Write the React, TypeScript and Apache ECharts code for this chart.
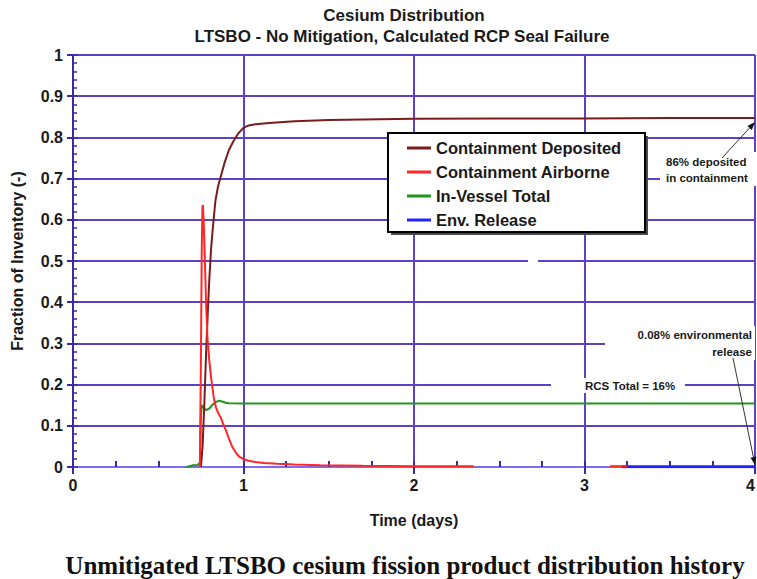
import React, { useEffect, useRef } from "react";
import * as echarts from "echarts";

const TITLE_LINES = ["Cesium Distribution", "LTSBO - No Mitigation, Calculated RCP Seal Failure"];
const CAPTION = "Unmitigated LTSBO cesium fission product distribution history";
const X_NAME = "Time (days)";
const Y_NAME = "Fraction of Inventory (-)";
const SERIES_NAMES = ["Containment Deposited", "Containment Airborne", "In-Vessel Total", "Env. Release"];
const SERIES_COLORS = ["#7a1c1c", "#ff2626", "#1f961f", "#2222ff"];

const X_MIN = 0;
const X_MAX = 4;
const X_INTERVAL = 1;
const Y_MIN = 0;
const Y_MAX = 1;
const Y_INTERVAL = 0.1;

// Containment Deposited
const T_DEP = [0.75, 0.76, 0.77, 0.78, 0.79, 0.8, 0.81, 0.82, 0.835, 0.85, 0.87, 0.89, 0.915, 0.94, 0.97, 1.0, 1.03, 1.07, 1.15, 1.3, 1.5, 2.0, 2.5, 3.0, 3.5, 4.0];
const V_DEP = [0, 0.05, 0.15, 0.27, 0.37, 0.46, 0.53, 0.58, 0.645, 0.68, 0.71, 0.74, 0.77, 0.79, 0.81, 0.823, 0.829, 0.832, 0.835, 0.839, 0.842, 0.845, 0.846, 0.846, 0.847, 0.847];

// Containment Airborne
const T_AIR = [0.744, 0.75, 0.755, 0.759, 0.762, 0.766, 0.77, 0.775, 0.781, 0.789, 0.799, 0.809, 0.825, 0.838, 0.855, 0.867, 0.88, 0.896, 0.915, 0.933, 0.955, 0.974, 1.0, 1.03, 1.07, 1.12, 1.2, 1.3, 1.45, 1.7, 2.0, 2.35, 2.75, 3.15, 3.25];
const V_AIR = [0, 0.25, 0.52, 0.63, 0.636, 0.6, 0.55, 0.48, 0.39, 0.31, 0.26, 0.22, 0.17, 0.145, 0.128, 0.12, 0.105, 0.09, 0.068, 0.05, 0.035, 0.025, 0.019, 0.015, 0.012, 0.01, 0.008, 0.006, 0.004, 0.003, 0.002, 0.002, null, 0.002, 0.002];

// In-Vessel Total
const T_VES = [0.665, 0.7, 0.73, 0.745, 0.75, 0.755, 0.765, 0.78, 0.8, 0.82, 0.84, 0.857, 0.875, 0.895, 0.915, 1.0, 1.5, 2.0, 2.5, 3.0, 3.5, 4.0];
const V_VES = [0, 0.004, 0.005, 0.01, 0.12, 0.15, 0.145, 0.138, 0.142, 0.152, 0.158, 0.161, 0.159, 0.156, 0.155, 0.154, 0.154, 0.154, 0.154, 0.154, 0.154, 0.154];

// Env. Release
const T_ENV = [3.22, 3.5, 4.0];
const V_ENV = [0.0005, 0.0007, 0.0008];

const ANNOT_DEP = ["86% deposited", "in containment"];
const ANNOT_ENV = ["0.08% environmental", "release"];
const ANNOT_RCS = "RCS Total = 16%";

const GRID_COLOR = "#5c40c8";
const FONT = "Liberation Sans, Arial, sans-serif";

function pairs(t: number[], v: (number | null)[]) {
  return t.map((x, i) => [x, v[i] === null ? "-" : v[i]]);
}

export default function App() {
  const ref = useRef<HTMLDivElement>(null);
  useEffect(() => {
    if (!ref.current) return;
    const chart = echarts.init(ref.current, null, { renderer: "svg" });
    const txt = (text: string, x: number, y: number, size: number, align: string, extra: any = {}) => ({
      type: "text",
      x,
      y,
      z: 150,
      silent: true,
      style: {
        text,
        fontFamily: FONT,
        fontSize: size,
        fontWeight: "bold",
        fill: "#1a1a1a",
        textAlign: align,
        textVerticalAlign: "middle",
        ...extra,
      },
    });
    const mask = (x: number, y: number, w: number, h: number) => ({
      type: "rect",
      z: 100,
      silent: true,
      shape: { x, y, width: w, height: h },
      style: { fill: "#ffffff" },
    });
    chart.setOption({
      animation: false,
      textStyle: { fontFamily: FONT },
      grid: { left: 73, top: 55, right: 1, bottom: 112, containLabel: false },
      xAxis: [
        {
          type: "value",
          min: X_MIN,
          max: X_MAX,
          interval: X_INTERVAL,
          position: "bottom",
          name: X_NAME,
          nameLocation: "middle",
          nameGap: 45,
          nameTextStyle: { fontSize: 16, fontWeight: "bold", color: "#1a1a1a", fontFamily: FONT },
          axisLine: { show: true, onZero: false, lineStyle: { color: "#7d6df0", width: 2 } },
          axisTick: { show: true, inside: false, length: 7, lineStyle: { color: "#3b2aa8", width: 2 } },
          axisLabel: { fontSize: 16, fontWeight: "bold", color: "#1a1a1a", margin: 10, fontFamily: FONT, alignMaxLabel: "right" },
          splitLine: { show: true, lineStyle: { color: GRID_COLOR, width: 2 } },
        },
        {
          type: "value",
          min: X_MIN,
          max: X_MAX,
          interval: X_INTERVAL,
          position: "bottom",
          axisLine: { show: false, onZero: false },
          axisTick: { show: true, inside: true, length: 6, lineStyle: { color: "#3b2aa8", width: 2 } },
          minorTick: { show: true, splitNumber: 4, length: 6, lineStyle: { color: "#3b2aa8", width: 2 } },
          axisLabel: { show: false },
          splitLine: { show: false },
        },
      ],
      yAxis: [
        {
          type: "value",
          min: Y_MIN,
          max: Y_MAX,
          interval: Y_INTERVAL,
          position: "left",
          name: Y_NAME,
          nameLocation: "middle",
          nameGap: 48,
          nameTextStyle: { fontSize: 16, fontWeight: "bold", color: "#1a1a1a", fontFamily: FONT },
          axisLine: { show: true, onZero: false, lineStyle: { color: "#3b2aa8", width: 2 } },
          axisTick: { show: true, inside: false, length: 6, lineStyle: { color: "#3b2aa8", width: 2 } },
          axisLabel: { fontSize: 16, fontWeight: "bold", color: "#1a1a1a", margin: 10, fontFamily: FONT },
          splitLine: { show: true, lineStyle: { color: GRID_COLOR, width: 2 } },
        },
        {
          type: "value",
          min: Y_MIN,
          max: Y_MAX,
          interval: Y_INTERVAL,
          position: "left",
          axisLine: { show: false, onZero: false },
          axisTick: { show: true, inside: true, length: 5, lineStyle: { color: "#3b2aa8", width: 1.5 } },
          minorTick: { show: true, splitNumber: 5, length: 4, lineStyle: { color: "#3b2aa8", width: 1.5 } },
          axisLabel: { show: false },
          splitLine: { show: false },
        },
      ],
      legend: {
        orient: "vertical",
        left: 402,
        top: 134,
        z: 200,
        padding: 5,
        itemGap: 6,
        itemWidth: 24,
        itemHeight: 3,
        icon: "rect",
        data: SERIES_NAMES,
        textStyle: { fontSize: 16.5, fontWeight: "bold", color: "#1a1a1a", lineHeight: 18, fontFamily: FONT },
      },
      graphic: [
        txt(TITLE_LINES[0], 404, 15, 17, "center"),
        txt(TITLE_LINES[1], 402, 36, 17, "center"),
        txt(CAPTION, 405, 565, 25, "center", { fontFamily: "Liberation Serif, Times New Roman, serif", fill: "#111" }),
        { type: "rect", z: 100, silent: true, shape: { x: 391, y: 136, width: 257, height: 99 }, style: { fill: "#4a4a4a" } },
        { type: "rect", z: 101, silent: true, shape: { x: 388, y: 133, width: 257, height: 99 }, style: { fill: "#ffffff", stroke: "#000000", lineWidth: 2 } },
        mask(660, 152, 97, 34),
        mask(605, 326, 150, 34),
        mask(551, 378, 134, 15),
        mask(528, 255, 10, 10),
        txt(ANNOT_DEP[0], 666, 162, 11.5, "left"),
        txt(ANNOT_DEP[1], 666, 178, 11.5, "left"),
        txt(ANNOT_ENV[0], 752, 335, 11.5, "right"),
        txt(ANNOT_ENV[1], 752, 352, 11.5, "right"),
        txt(ANNOT_RCS, 585, 386, 11.5, "left"),
        { type: "line", z: 150, silent: true, shape: { x1: 722, y1: 158, x2: 749.6, y2: 127.9 }, style: { stroke: "#333", lineWidth: 1 } },
        { type: "polygon", z: 150, silent: true, shape: { points: [[755, 122], [751.8, 129.9], [747.4, 125.9]] }, style: { fill: "#111" } },
        { type: "line", z: 150, silent: true, shape: { x1: 733, y1: 358, x2: 753.4, y2: 457.2 }, style: { stroke: "#333", lineWidth: 1 } },
        { type: "polygon", z: 150, silent: true, shape: { points: [[755, 465], [756.3, 456.6], [750.5, 457.8]] }, style: { fill: "#111" } },
      ],
      series: [
        {
          name: SERIES_NAMES[3],
          type: "line",
          showSymbol: false,
          color: SERIES_COLORS[3],
          lineStyle: { width: 3, color: SERIES_COLORS[3] },
          data: pairs(T_ENV, V_ENV),
          z: 3,
        },
        {
          name: SERIES_NAMES[2],
          type: "line",
          showSymbol: false,
          color: SERIES_COLORS[2],
          lineStyle: { width: 2, color: SERIES_COLORS[2] },
          data: pairs(T_VES, V_VES),
          z: 4,
        },
        {
          name: SERIES_NAMES[0],
          type: "line",
          showSymbol: false,
          color: SERIES_COLORS[0],
          lineStyle: { width: 2, color: SERIES_COLORS[0] },
          data: pairs(T_DEP, V_DEP),
          z: 5,
        },
        {
          name: SERIES_NAMES[1],
          type: "line",
          showSymbol: false,
          connectNulls: false,
          color: SERIES_COLORS[1],
          lineStyle: { width: 2, color: SERIES_COLORS[1] },
          data: pairs(T_AIR, V_AIR),
          z: 6,
        },
      ],
    });
    return () => chart.dispose();
  }, []);
  return (
    <div style={{ position: "fixed", left: 0, top: 0, width: 757, height: 579, overflow: "hidden", background: "#fff" }}>
      <div ref={ref} style={{ width: 758, height: 579 }} />
    </div>
  );
}
